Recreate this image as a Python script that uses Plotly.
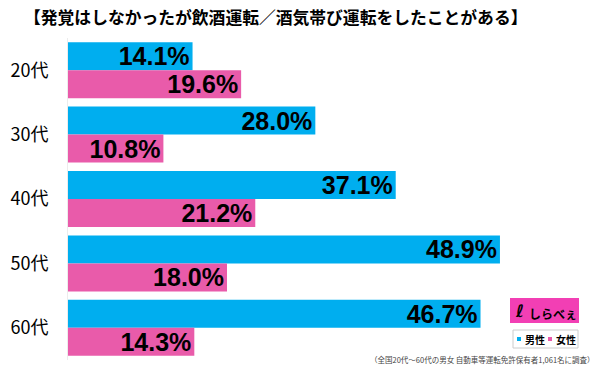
import plotly.graph_objects as go

categories = ["20代", "30代", "40代", "50代", "60代"]
male = [14.1, 28.0, 37.1, 48.9, 46.7]
female = [19.6, 10.8, 21.2, 18.0, 14.3]
series_names = ["男性", "女性"]
title_text = "【発覚はしなかったが飲酒運転／酒気帯び運転をしたことがある】"
note_text = "（全国20代～60代の男女 自動車等運転免許保有者1,061名に調査）"

BLUE = "#00AEEF"
PINK = "#E95BAA"
FONT = "Noto Sans CJK JP"
NUMFONT = "Liberation Sans, Arial, sans-serif"

L, W, T, H = 68, 530, 38, 322


def px(x):
    return (x - L) / W


def py(y):
    return (T + H - y) / H


fig = go.Figure()
for name, vals, col in [(series_names[0], male, BLUE), (series_names[1], female, PINK)]:
    fig.add_trace(go.Bar(
        y=categories, x=vals, name=name, orientation="h",
        marker=dict(color=col, line=dict(width=0)),
        text=[f"{v:.1f}%" for v in vals],
        textposition="inside", insidetextanchor="end",
        textfont=dict(family=NUMFONT, size=25, color="black", weight="bold"),
        constraintext="none",
        showlegend=False,
        hoverinfo="skip",
    ))

fig.update_layout(
    width=600, height=371,
    margin=dict(l=L, r=600 - L - W, t=T, b=371 - T - H, autoexpand=False),
    paper_bgcolor="white", plot_bgcolor="white",
    barmode="group", bargap=0.13, bargroupgap=0,
    xaxis=dict(range=[0, 60], showgrid=False, zeroline=False, showticklabels=False,
               showline=False, ticks="", automargin=False),
    yaxis=dict(autorange="reversed", showgrid=False, ticks="", showline=True,
               linecolor="#ececec", linewidth=1, automargin=False,
               tickfont=dict(family=FONT, size=18, color="black"), ticklabelstandoff=15),
    font=dict(family=FONT),
)

fig.add_annotation(text=title_text, xref="paper", yref="paper", x=px(275), y=py(17),
                   yanchor="middle", xanchor="center",
                   font=dict(family=FONT, size=16.8, color="black", weight="bold"),
                   showarrow=False)

# logo
fig.add_shape(type="rect", xref="paper", yref="paper",
              x0=px(510), x1=px(579), y0=py(323), y1=py(298),
              fillcolor="#F23FB4", line=dict(width=0), layer="above")
fig.add_annotation(text="ℓ", xref="paper", yref="paper",
                   x=px(519), y=py(311), xanchor="center", yanchor="middle",
                   font=dict(family="DejaVu Sans", size=17, color="black", weight="bold"),
                   showarrow=False)
fig.add_annotation(text="しらべぇ", xref="paper", yref="paper",
                   x=px(527), y=py(313), xanchor="left", yanchor="middle",
                   font=dict(family=FONT, size=12, color="black", weight="bold"), showarrow=False)

# legend box
fig.add_shape(type="rect", xref="paper", yref="paper",
              x0=px(513), x1=px(578), y0=py(348), y1=py(330),
              fillcolor="white", line=dict(width=1, color="#cccccc"), layer="above")
for i, (name, col) in enumerate([(series_names[0], BLUE), (series_names[1], PINK)]):
    sx = 517 + i * 31
    fig.add_shape(type="rect", xref="paper", yref="paper",
                  x0=px(sx), x1=px(sx + 4), y0=py(341), y1=py(337),
                  fillcolor=col, line=dict(width=0), layer="above")
    fig.add_annotation(text=name, xref="paper", yref="paper",
                       x=px(sx + 6), y=py(339), xanchor="left", yanchor="middle",
                       font=dict(family=FONT, size=10, color="black", weight="bold"),
                       showarrow=False)

fig.add_annotation(text=note_text, xref="paper", yref="paper", x=px(597), y=py(359),
                   xanchor="right", yanchor="middle",
                   font=dict(family=FONT, size=7.5, color="#444444"), showarrow=False)

fig.write_html("out.html", config={"displayModeBar": False},
               post_script="document.body.style.margin='0';document.body.style.overflow='hidden';")
